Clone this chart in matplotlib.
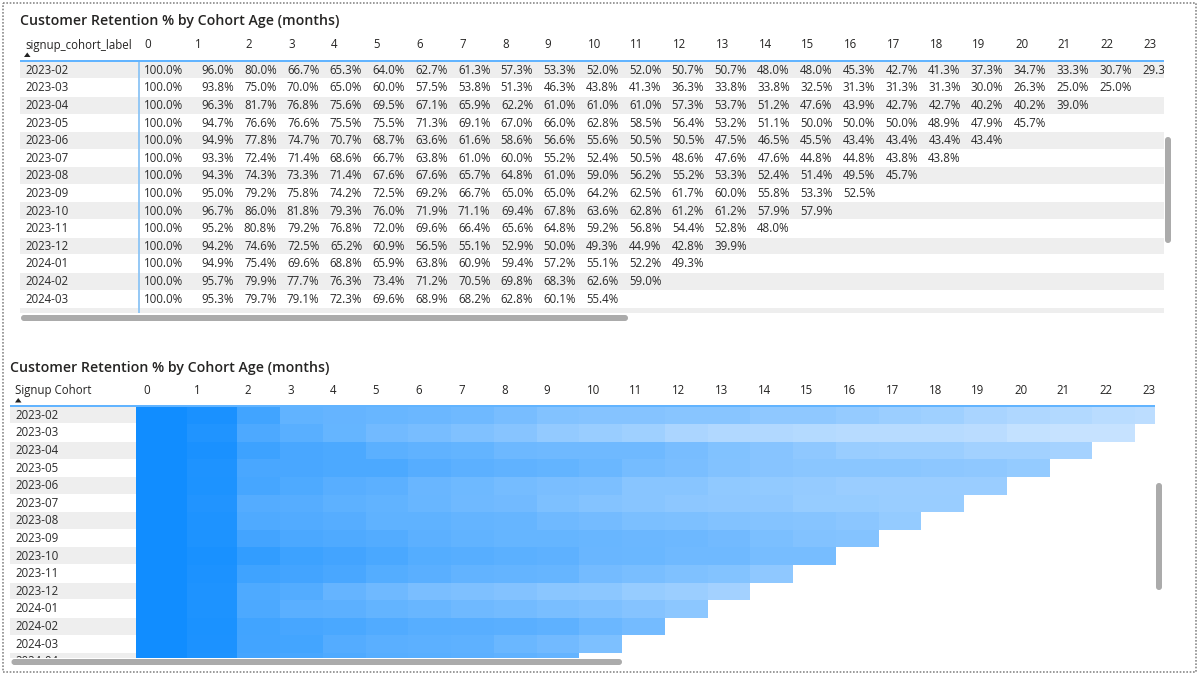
import numpy as np
import matplotlib
matplotlib.use("Agg")
import matplotlib.pyplot as plt
from matplotlib.patches import Rectangle, FancyBboxPatch, Polygon
from matplotlib.colors import LinearSegmentedColormap

# ---------------- data ----------------
title = "Customer Retention % by Cohort Age (months)"
cohorts = ["2023-02", "2023-03", "2023-04", "2023-05", "2023-06", "2023-07",
           "2023-08", "2023-09", "2023-10", "2023-11", "2023-12", "2024-01",
           "2024-02", "2024-03", "2024-04"]
ages = list(range(24))

r_2023_02 = [100.0, 96.0, 80.0, 66.7, 65.3, 64.0, 62.7, 61.3, 57.3, 53.3, 52.0, 52.0,
             50.7, 50.7, 48.0, 48.0, 45.3, 42.7, 41.3, 37.3, 34.7, 33.3, 30.7, 29.3]
r_2023_03 = [100.0, 93.8, 75.0, 70.0, 65.0, 60.0, 57.5, 53.8, 51.3, 46.3, 43.8, 41.3,
             36.3, 33.8, 33.8, 32.5, 31.3, 31.3, 31.3, 30.0, 26.3, 25.0, 25.0]
r_2023_04 = [100.0, 96.3, 81.7, 76.8, 75.6, 69.5, 67.1, 65.9, 62.2, 61.0, 61.0, 61.0,
             57.3, 53.7, 51.2, 47.6, 43.9, 42.7, 42.7, 40.2, 40.2, 39.0]
r_2023_05 = [100.0, 94.7, 76.6, 76.6, 75.5, 75.5, 71.3, 69.1, 67.0, 66.0, 62.8, 58.5,
             56.4, 53.2, 51.1, 50.0, 50.0, 50.0, 48.9, 47.9, 45.7]
r_2023_06 = [100.0, 94.9, 77.8, 74.7, 70.7, 68.7, 63.6, 61.6, 58.6, 56.6, 55.6, 50.5,
             50.5, 47.5, 46.5, 45.5, 43.4, 43.4, 43.4, 43.4]
r_2023_07 = [100.0, 93.3, 72.4, 71.4, 68.6, 66.7, 63.8, 61.0, 60.0, 55.2, 52.4, 50.5,
             48.6, 47.6, 47.6, 44.8, 44.8, 43.8, 43.8]
r_2023_08 = [100.0, 94.3, 74.3, 73.3, 71.4, 67.6, 67.6, 65.7, 64.8, 61.0, 59.0, 56.2,
             55.2, 53.3, 52.4, 51.4, 49.5, 45.7]
r_2023_09 = [100.0, 95.0, 79.2, 75.8, 74.2, 72.5, 69.2, 66.7, 65.0, 65.0, 64.2, 62.5,
             61.7, 60.0, 55.8, 53.3, 52.5]
r_2023_10 = [100.0, 96.7, 86.0, 81.8, 79.3, 76.0, 71.9, 71.1, 69.4, 67.8, 63.6, 62.8,
             61.2, 61.2, 57.9, 57.9]
r_2023_11 = [100.0, 95.2, 80.8, 79.2, 76.8, 72.0, 69.6, 66.4, 65.6, 64.8, 59.2, 56.8,
             54.4, 52.8, 48.0]
r_2023_12 = [100.0, 94.2, 74.6, 72.5, 65.2, 60.9, 56.5, 55.1, 52.9, 50.0, 49.3, 44.9,
             42.8, 39.9]
r_2024_01 = [100.0, 94.9, 75.4, 69.6, 68.8, 65.9, 63.8, 60.9, 59.4, 57.2, 55.1, 52.2, 49.3]
r_2024_02 = [100.0, 95.7, 79.9, 77.7, 76.3, 73.4, 71.2, 70.5, 69.8, 68.3, 62.6, 59.0]
r_2024_03 = [100.0, 95.3, 79.7, 79.1, 72.3, 69.6, 68.9, 68.2, 62.8, 60.1, 55.4]
r_2024_04 = [100.0, 94.8, 78.5, 77.0, 74.1, 71.1, 70.4, 68.9, 67.4, 65.2]  # mostly hidden row

retention = [r_2023_02, r_2023_03, r_2023_04, r_2023_05, r_2023_06, r_2023_07, r_2023_08,
             r_2023_09, r_2023_10, r_2023_11, r_2023_12, r_2024_01, r_2024_02, r_2024_03,
             r_2024_04]

# ---------------- style / layout ----------------
W, H = 1200, 675
FONT = "Open Sans"
TXT = "#2B2B2B"
HDR = "#252423"
BAND = "#EEEEEE"
LINE_BLUE = "#52ADFF"
SCROLL = "#ABABAB"
ROW_H = 17.6
COL_W = [51.0, 50.5] + [42.75] * 22
VAL_FS = 8.3
TITLE_FS = 10.2

plt.rcParams["font.family"] = [FONT, "DejaVu Sans"]

fig = plt.figure(figsize=(12, 6.75), dpi=100)
fig.patch.set_facecolor("white")


def px_axes(x0, y0, x1, y1, z=1):
    ax = fig.add_axes([x0 / W, 1 - y1 / H, (x1 - x0) / W, (y1 - y0) / H], zorder=z)
    ax.set_xlim(x0, x1)
    ax.set_ylim(y1, y0)
    ax.axis("off")
    return ax


def col_edges(x0):
    return x0 + np.concatenate([[0.0], np.cumsum(COL_W)])


def scrollbar(ax, x0, y0, x1, y1):
    r = min(x1 - x0, y1 - y0) / 2
    ax.add_patch(FancyBboxPatch((x0, y0), x1 - x0, y1 - y0,
                                boxstyle=f"round,pad=0,rounding_size={r}",
                                fc=SCROLL, ec="none", zorder=5))


def sort_arrow(ax, x, y):
    ax.add_patch(Polygon([[x, y + 4.5], [x + 6.5, y + 4.5], [x + 3.25, y]],
                         closed=True, fc="#222222", ec="none"))


bg = px_axes(0, 0, W, H, z=0)

# outer dotted frame
bg.add_patch(Rectangle((3, 3), W - 7, H - 6, fill=False, ec="#8A8A8A", lw=1.2,
                       ls=(0, (1, 1))))

# ================= TOP: numeric matrix =================
bg.text(20, 21, title, fontsize=TITLE_FS, fontweight="semibold", color=HDR,
        va="center", ha="left")

T_X0, T_X1, T_HY, T_BOT = 20, 1164, 61.5, 312.5
t_edges = col_edges(138.5)
tab = px_axes(T_X0, 30, T_X1, T_BOT, z=2)

tab.text(25, 45, "signup_cohort_label", fontsize=VAL_FS, color=HDR, va="center")
sort_arrow(tab, 24, 52.5)
for j, a in enumerate(ages):
    tab.text(t_edges[j] + 5.5, 45, str(a), fontsize=VAL_FS, color=HDR, va="center",
             clip_on=True)

for i, (c, vals) in enumerate(zip(cohorts, retention)):
    y0 = T_HY + i * ROW_H
    yc = y0 + ROW_H / 2
    if i % 2 == 0:
        tab.add_patch(Rectangle((T_X0, y0), T_X1 - T_X0, ROW_H - 0.8, fc=BAND, ec="none"))
    if yc > T_BOT - 3:
        continue  # row scrolled out of view: only its band edge shows
    tab.text(25, yc, c, fontsize=VAL_FS, color=TXT, va="center", clip_on=True)
    for j, v in enumerate(vals):
        tab.text(t_edges[j + 1] - 6, yc, f"{v:.1f}%", fontsize=VAL_FS, color=TXT,
                 va="center", ha="right", clip_on=True)

tab.plot([T_X0, T_X1], [T_HY - 0.5, T_HY - 0.5], color=LINE_BLUE, lw=1.3, solid_capstyle="butt")
tab.plot([138.5, 138.5], [T_HY, T_BOT], color="#8CC4F5", lw=1.3, solid_capstyle="butt")

scrollbar(bg, 21, 315, 628, 321)
scrollbar(bg, 1165, 137, 1171, 243)

# ================= BOTTOM: heatmap matrix =================
bg.text(10, 368, title, fontsize=TITLE_FS, fontweight="semibold", color=HDR,
        va="center", ha="left")

B_LX0, B_X0, B_X1, B_HY, B_BOT = 10, 136.0, 1155, 406.5, 658
b_edges = col_edges(B_X0)

bg.text(15, 390.5, "Signup Cohort", fontsize=VAL_FS, color=HDR, va="center")
sort_arrow(bg, 15, 398)
hdr_ax = px_axes(B_X0, 375, B_X1, 405, z=2)
for j, a in enumerate(ages):
    hdr_ax.text(b_edges[j] + 7, 391, str(a), fontsize=VAL_FS, color=HDR, va="center",
                clip_on=True)

lab = px_axes(B_LX0, B_HY, B_X0, B_BOT, z=2)
for i, c in enumerate(cohorts):
    y0 = B_HY + i * ROW_H
    if i % 2 == 0:
        lab.add_patch(Rectangle((B_LX0, y0), B_X0 - B_LX0, ROW_H - 0.8, fc=BAND, ec="none"))
    lab.text(15, y0 + ROW_H / 2, c, fontsize=VAL_FS, color=TXT, va="center", clip_on=True)

grid = np.full((len(cohorts), len(ages)), np.nan)
for i, vals in enumerate(retention):
    grid[i, :len(vals)] = vals

cmap = LinearSegmentedColormap.from_list("pbi_blue", ["#C6E2FF", "#118DFF"])
hm = px_axes(B_X0, B_HY, B_X1, B_BOT, z=2)
b_y = B_HY + ROW_H * np.arange(len(cohorts) + 1)
hm.pcolormesh(b_edges, b_y, np.ma.masked_invalid(grid), cmap=cmap, vmin=25, vmax=100,
              shading="flat", edgecolors="none")

bg.plot([B_LX0, B_X1], [B_HY - 0.8, B_HY - 0.8], color=LINE_BLUE, lw=1.3,
        solid_capstyle="butt", zorder=6)

scrollbar(bg, 11.5, 659, 622, 665)
scrollbar(bg, 1156, 483, 1162, 590)

fig.savefig("out.png", dpi=100, facecolor="white")
